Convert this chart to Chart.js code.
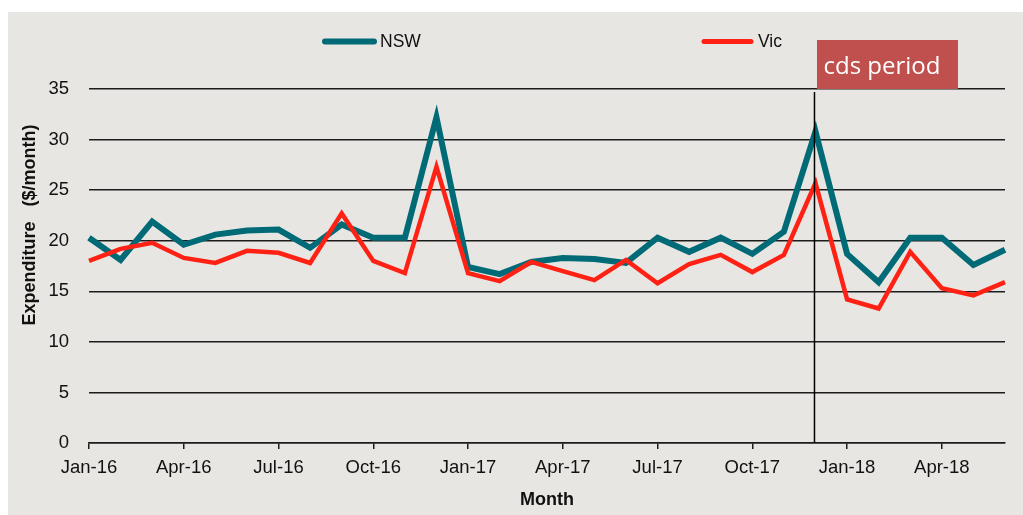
<!DOCTYPE html>
<html>
<head>
<meta charset="utf-8">
<script src="https://cdn.jsdelivr.net/npm/chart.js@4/dist/chart.umd.min.js"></script>
<style>
  body { margin: 0; background: #fff; }
  #wrap { position: absolute; left: 8px; top: 12px; width: 1015px; height: 503px; background: #e8e6e2; }
</style>
</head>
<body>
<div id="wrap"><canvas id="chart" width="1015" height="503"></canvas></div>
<script>
const months = [
  'Jan-16', 'Feb-16', 'Mar-16', 'Apr-16', 'May-16', 'Jun-16', 'Jul-16', 'Aug-16', 'Sep-16', 'Oct-16', 'Nov-16', 'Dec-16',
  'Jan-17', 'Feb-17', 'Mar-17', 'Apr-17', 'May-17', 'Jun-17', 'Jul-17', 'Aug-17', 'Sep-17', 'Oct-17', 'Nov-17', 'Dec-17',
  'Jan-18', 'Feb-18', 'Mar-18', 'Apr-18', 'May-18', 'Jun-18'
];
const nsw = [20.3, 18.1, 21.9, 19.6, 20.6, 21.0, 21.1, 19.3, 21.6, 20.3, 20.3, 32.2,
             17.4, 16.7, 17.9, 18.3, 18.2, 17.8, 20.3, 18.9, 20.3, 18.7, 20.9, 30.8,
             18.7, 15.9, 20.3, 20.3, 17.6, 19.1];
const vic = [18.0, 19.2, 19.8, 18.3, 17.8, 19.0, 18.8, 17.8, 22.7, 18.0, 16.8, 27.3,
             16.8, 16.0, 17.9, 17.0, 16.1, 18.1, 15.8, 17.7, 18.6, 16.9, 18.6, 25.7,
             14.2, 13.3, 18.9, 15.3, 14.6, 15.9];
const cdsStart = 'Dec-17';

const NSW_COLOR = '#006a76';
const VIC_COLOR = '#ff2114';
const INK = '#1c1c1c';
const FONT = 'Liberation Sans, Arial, sans-serif';

// legend, y title, cds marker line and label box
const extras = {
  id: 'extras',
  afterDraw(chart) {
    const ctx = chart.ctx;
    const area = chart.chartArea;
    ctx.save();

    // legend
    ctx.lineCap = 'round';
    ctx.lineWidth = 6;
    ctx.strokeStyle = NSW_COLOR;
    ctx.beginPath(); ctx.moveTo(317, 29.5); ctx.lineTo(366, 29.5); ctx.stroke();
    ctx.lineWidth = 5;
    ctx.strokeStyle = VIC_COLOR;
    ctx.beginPath(); ctx.moveTo(696, 29.5); ctx.lineTo(743, 29.5); ctx.stroke();
    ctx.fillStyle = '#111';
    ctx.font = '17.5px ' + FONT;
    ctx.textBaseline = 'middle';
    ctx.fillText('NSW', 372, 30);
    ctx.fillText('Vic', 750, 30);

    // y title
    ctx.save();
    ctx.translate(22, 213);
    ctx.rotate(-Math.PI / 2);
    ctx.textAlign = 'center';
    ctx.font = 'bold 18px ' + FONT;
    ctx.fillText('Expenditure   ($/month)', 0, 0);
    ctx.restore();

    // cds period line
    const x = chart.scales.x.getPixelForValue(months.indexOf(cdsStart)) - 1;
    ctx.lineCap = 'butt';
    ctx.strokeStyle = '#000';
    ctx.lineWidth = 1.5;
    ctx.beginPath(); ctx.moveTo(x, area.top + 3); ctx.lineTo(x, area.bottom); ctx.stroke();

    // cds period box
    ctx.fillStyle = '#c0504d';
    ctx.fillRect(x + 2.5, 28, 141, area.top - 28);
    ctx.fillStyle = '#fff';
    ctx.font = '24px "Open Sans", "Noto Sans", sans-serif';
    ctx.textBaseline = 'alphabetic';
    ctx.textAlign = 'left';
    ctx.fillText('cds period', x + 9, 62);
    ctx.restore();
  }
};

new Chart(document.getElementById('chart'), {
  type: 'line',
  data: {
    labels: months,
    datasets: [
      {
        label: 'NSW',
        data: nsw,
        borderColor: NSW_COLOR,
        borderWidth: 6,
        order: 1
      },
      {
        label: 'Vic',
        data: vic,
        borderColor: VIC_COLOR,
        borderWidth: 4.5,
        order: 0
      }
    ]
  },
  options: {
    responsive: false,
    animation: false,
    devicePixelRatio: 1,
    layout: { padding: { top: 77, right: 18, left: 0, bottom: 0 } },
    elements: {
      point: { radius: 0 },
      line: { tension: 0, borderJoinStyle: 'miter', borderCapStyle: 'butt', fill: false }
    },
    plugins: {
      legend: { display: false },
      tooltip: { enabled: false }
    },
    scales: {
      x: {
        afterFit(scale) { scale.height = 72; },
        grid: { drawOnChartArea: false, drawTicks: true, tickLength: 6, color: INK, lineWidth: 1.5 },
        border: { display: true, color: INK, width: 1.5 },
        ticks: {
          autoSkip: false,
          maxRotation: 0,
          padding: 8,
          color: '#111',
          font: { family: FONT, size: 18.5 },
          callback(value, i) { return i % 3 === 0 ? months[i] : null; }
        },
        title: {
          display: true,
          text: 'Month',
          color: '#111',
          font: { family: FONT, size: 18, weight: 'bold' },
          padding: { top: 0, bottom: 4 }
        }
      },
      y: {
        min: 0,
        max: 35,
        afterFit(scale) { scale.width = 81; },
        grid: { drawTicks: false, color: INK, lineWidth: 1.5 },
        border: { display: false },
        ticks: {
          stepSize: 5,
          padding: 20,
          color: '#111',
          font: { family: FONT, size: 18.5 }
        }
      }
    }
  },
  plugins: [extras]
});
</script>
</body>
</html>
